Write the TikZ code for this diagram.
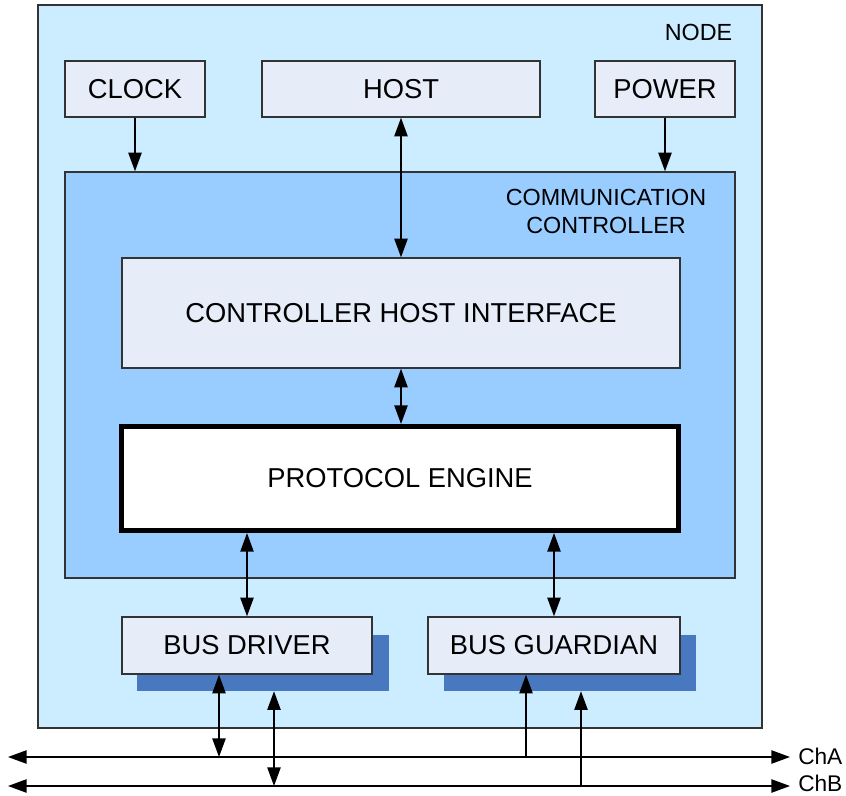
\documentclass[tikz,border=0pt]{standalone}
\usepackage{fontspec}
\setmainfont{Liberation Sans}
\usetikzlibrary{arrows.meta}
\definecolor{nodebg}{HTML}{CCECFF}
\definecolor{ccbg}{HTML}{99CCFF}
\definecolor{boxbg}{HTML}{E6ECF8}
\definecolor{shadowblue}{HTML}{4878C0}
\tikzset{
  blk/.style={draw=black!80, line width=1.1pt, fill=boxbg, inner sep=0pt},
  shadebox/.style={fill=shadowblue, inner sep=0pt, minimum width=189pt, minimum height=42pt},
  lbl/.style={font=\fontsize{17.5}{21}\selectfont},
  chlbl/.style={anchor=west, inner sep=0pt, inner xsep=6pt, font=\fontsize{17}{20}\selectfont},
  conn/.style={line width=1.1pt, -{Triangle[length=14pt,width=10pt]}},
  biconn/.style={line width=1.1pt, {Triangle[length=14pt,width=10pt]}-{Triangle[length=14pt,width=10pt]}},
}

\begin{document}
\begin{tikzpicture}[x=0.75pt,y=-0.75pt,font=\fontsize{20.5}{21}\selectfont]
  \useasboundingbox (0,0) rectangle (846,796);
  \node[blk, fill=nodebg, minimum width=543pt, minimum height=542pt] (nodebox) at (400,366.5) {};
  \node[lbl, anchor=east] (nodelbl) at (737,32) {NODE};
  \node[blk, minimum width=105pt, minimum height=42pt] (clock) at (135,89) {CLOCK};
  \node[blk, minimum width=208.5pt, minimum height=42pt] (host) at (401,89) {HOST};
  \node[blk, minimum width=105pt, minimum height=42pt] (power) at (665,89) {POWER};
  \node[blk, fill=ccbg, minimum width=502.5pt, minimum height=304.5pt] (cc) at (400,375) {};
  \node[lbl, align=center] (cclbl) at (606,211) {COMMUNICATION\\CONTROLLER};
  \node[blk, minimum width=418.5pt, minimum height=82.5pt] (chi) at (401,313) {CONTROLLER HOST INTERFACE};
  \node[blk, fill=white, draw=black, line width=3.8pt, minimum width=418pt, minimum height=78pt] (pe) at (400,478.5) {PROTOCOL ENGINE};
  \node[shadebox] (bdsh) at (263,663) {};
  \node[blk, minimum width=187.5pt, minimum height=42.75pt] (bd) at (247,645.5) {BUS DRIVER};
  \node[shadebox] (bgsh) at (570,663) {};
  \node[blk, minimum width=189pt, minimum height=42.75pt] (bg) at (554,645.5) {BUS GUARDIAN};

  \draw[conn] (clock.south) -- (clock.south |- cc.north);
  \draw[conn] (power.south) -- (power.south |- cc.north);
  \draw[biconn] (host.south) -- (host.south |- chi.north);
  \draw[biconn] (chi.south) -- (chi.south |- pe.north);
  \draw[biconn] (pe.south -| bd.north) -- (bd.north);
  \draw[biconn] (pe.south -| bg.north) -- (bg.north);

  \node[chlbl] (cha) at (790,756) {ChA};
  \node[chlbl] (chb) at (790,783) {ChB};
  \coordinate (chaend) at (8,757);
  \coordinate (chbend) at (8,786);
  \draw[biconn] (chaend) -- (chaend -| cha.west);
  \draw[biconn] (chbend) -- (chbend -| chb.west);

  \coordinate (bdA) at (219,757);
  \coordinate (bdB) at (274,786);
  \coordinate (bgA) at (526,757);
  \coordinate (bgB) at (581,786);
  \draw[biconn] (bd.south -| bdA) -- (bdA);
  \draw[biconn] (bdsh.south -| bdB) -- (bdB);
  \draw[conn] (bgA) -- (bg.south -| bgA);
  \draw[conn] (bgB) -- (bgsh.south -| bgB);
\end{tikzpicture}
\end{document}
